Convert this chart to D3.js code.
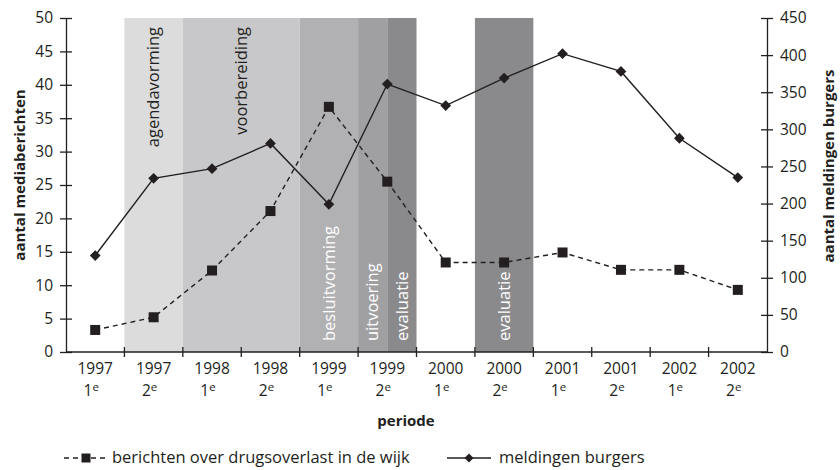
<!DOCTYPE html>
<html>
<head>
<meta charset="utf-8">
<script src="https://cdn.jsdelivr.net/npm/d3@7"></script>
<style>
  body { margin: 0; background: #fff; }
  svg text { font-family: "Open Sans", sans-serif; fill: #231f20; }
</style>
</head>
<body>
<div class="wrapper"></div>
<script>
const WIDTH = 840
const HEIGHT = 470
const margin = {left: 66, right: 73, top: 18, bottom: 118}

var years = ['1997', '1997', '1998', '1998', '1999', '1999', '2000', '2000', '2001', '2001', '2002', '2002']
var halves = ['1', '2', '1', '2', '1', '2', '1', '2', '1', '2', '1', '2']
var berichten = [3.3, 5.2, 12.2, 21.1, 36.7, 25.5, 13.4, 13.4, 14.9, 12.3, 12.3, 9.3]
var meldingen = [130, 234, 247, 281, 199, 361, 332, 369, 402, 378, 288, 235]

// phases: start / end in periods (index units)
var phaseNames = ['agendavorming', 'voorbereiding', 'besluitvorming', 'uitvoering', 'evaluatie', 'evaluatie']
var phaseStart = [1, 2, 4, 5, 5.5, 7]
var phaseEnd = [2, 4, 5, 5.5, 6, 8]
var phaseColors = ['#dcdcdd', '#c8c8ca', '#b1b1b3', '#a0a0a2', '#8a8a8c', '#8a8a8c']
var phaseDark = [true, true, false, false, false, false]

var ink = '#231f20'

var svg = d3.select(".wrapper")
    .append("svg")
    .attr("width", WIDTH)
    .attr("height", HEIGHT)

var x = d3.scaleLinear([0, years.length], [margin.left, WIDTH - margin.right])
var yLeft = d3.scaleLinear([0, 50], [HEIGHT - margin.bottom, margin.top])
var yRight = d3.scaleLinear([0, 450], [HEIGHT - margin.bottom, margin.top])
var idx = d3.range(years.length)
var cx = i => x(i + 0.5)
var bottom = HEIGHT - margin.bottom

// phase shading
var phases = phaseNames.map((n, i) => ({name: n, s: phaseStart[i], e: phaseEnd[i], c: phaseColors[i], dark: phaseDark[i]}))
svg.append("g").selectAll("rect")
    .data(phases)
    .join("rect")
    .attr("x", d => x(d.s))
    .attr("width", d => x(d.e) - x(d.s))
    .attr("y", margin.top)
    .attr("height", bottom - margin.top)
    .attr("fill", d => d.c)

svg.append("g").selectAll("text")
    .data(phases)
    .join("text")
    .attr("transform", function(d) {
        var px = (x(d.s) + x(d.e)) / 2
        var py = d.dark ? 27 : 341
        return `translate(${px},${py}) rotate(-90)`
    })
    .attr("text-anchor", d => d.dark ? "end" : "start")
    .attr("dy", "0.35em")
    .style("font-size", "16.5px")
    .style("fill", d => d.dark ? ink : "#fff")
    .text(d => d.name)

// axes
var leftAxis = d3.axisLeft(yLeft).tickValues(d3.range(0, 51, 5)).tickSizeInner(6).tickSizeOuter(0).tickPadding(8)
var gl = svg.append("g").attr("transform", `translate(${margin.left},0)`).call(leftAxis)
var rightAxis = d3.axisRight(yRight).tickValues(d3.range(0, 451, 50)).tickSizeInner(6).tickSizeOuter(0).tickPadding(8)
var gr = svg.append("g").attr("transform", `translate(${WIDTH - margin.right},0)`).call(rightAxis)
;[gl, gr].forEach(g => {
    g.select(".domain").attr("stroke", ink).attr("stroke-width", 1.3)
    g.selectAll(".tick line").attr("stroke", ink).attr("stroke-width", 1.3)
        .attr("x1", -6).attr("x2", 6)
    g.selectAll(".tick text").style("font-size", "15.5px").style("font-family", "'Open Sans', sans-serif").attr("fill", ink)
})
gl.selectAll(".tick text").attr("x", -13)
gr.selectAll(".tick text").attr("x", 13)

// x axis
var gx = svg.append("g")
gx.append("line")
    .attr("x1", x(0)).attr("x2", x(years.length))
    .attr("y1", bottom).attr("y2", bottom)
    .attr("stroke", ink).attr("stroke-width", 1.3)
gx.selectAll("line.tick")
    .data(d3.range(1, years.length))
    .join("line")
    .attr("class", "tick")
    .attr("x1", d => x(d)).attr("x2", d => x(d))
    .attr("y1", bottom - 5).attr("y2", bottom + 5)
    .attr("stroke", ink).attr("stroke-width", 1.3)
gx.selectAll("text.year")
    .data(idx)
    .join("text")
    .attr("class", "year")
    .attr("x", cx)
    .attr("y", bottom + 22)
    .attr("text-anchor", "middle")
    .style("font-size", "15.5px")
    .text(i => years[i])
var half = gx.selectAll("text.half")
    .data(idx)
    .join("text")
    .attr("class", "half")
    .attr("x", i => cx(i) - 4)
    .attr("y", bottom + 44)
    .attr("text-anchor", "middle")
    .style("font-size", "15.5px")
half.append("tspan").text(i => halves[i])
half.append("tspan").attr("dy", -5).style("font-size", "11.5px").text("e")

svg.append("text")
    .attr("x", 406)
    .attr("y", bottom + 74)
    .attr("text-anchor", "middle")
    .style("font-size", "15px")
    .style("font-weight", "bold")
    .text("periode")

svg.append("text")
    .attr("transform", `translate(20,175) rotate(-90)`)
    .attr("text-anchor", "middle")
    .attr("dy", "0.35em")
    .style("font-size", "15px")
    .style("font-weight", "bold")
    .text("aantal mediaberichten")

svg.append("text")
    .attr("transform", `translate(829,166) rotate(-90)`)
    .attr("text-anchor", "middle")
    .attr("dy", "0.35em")
    .style("font-size", "15px")
    .style("font-weight", "bold")
    .text("aantal meldingen burgers")

// lines
var lineB = d3.line().x(i => cx(i)).y(i => yLeft(berichten[i]))
var lineM = d3.line().x(i => cx(i)).y(i => yRight(meldingen[i]))

svg.append("path")
    .attr("d", lineB(idx))
    .attr("fill", "none")
    .attr("stroke", ink)
    .attr("stroke-width", 1.4)
    .attr("stroke-dasharray", "5,4")

svg.append("path")
    .attr("d", lineM(idx))
    .attr("fill", "none")
    .attr("stroke", ink)
    .attr("stroke-width", 1.4)

var sq = 10
svg.append("g").selectAll("rect")
    .data(idx)
    .join("rect")
    .attr("x", i => cx(i) - sq / 2)
    .attr("y", i => yLeft(berichten[i]) - sq / 2)
    .attr("width", sq).attr("height", sq)
    .attr("fill", ink)

svg.append("g").selectAll("path")
    .data(idx)
    .join("path")
    .attr("transform", i => `translate(${cx(i)},${yRight(meldingen[i])}) rotate(45)`)
    .attr("d", d3.symbol().type(d3.symbolSquare).size(58))
    .attr("fill", ink)

// legend
var ly = 458
var lg = svg.append("g")
lg.append("line")
    .attr("x1", 64).attr("x2", 108).attr("y1", ly).attr("y2", ly)
    .attr("stroke", ink).attr("stroke-width", 1.4).attr("stroke-dasharray", "5,4")
lg.append("rect")
    .attr("x", 86 - 4.5).attr("y", ly - 4.5).attr("width", 9).attr("height", 9)
    .attr("fill", ink)
lg.append("text")
    .attr("x", 112).attr("y", ly).attr("dy", "0.32em")
    .style("font-size", "16.5px")
    .text("berichten over drugsoverlast in de wijk")
lg.append("line")
    .attr("x1", 447).attr("x2", 491).attr("y1", ly).attr("y2", ly)
    .attr("stroke", ink).attr("stroke-width", 1.4)
lg.append("path")
    .attr("transform", `translate(469,${ly}) rotate(45)`)
    .attr("d", d3.symbol().type(d3.symbolSquare).size(40))
    .attr("fill", ink)
lg.append("text")
    .attr("x", 499).attr("y", ly).attr("dy", "0.32em")
    .style("font-size", "16.5px")
    .text("meldingen burgers")
</script>
</body>
</html>
